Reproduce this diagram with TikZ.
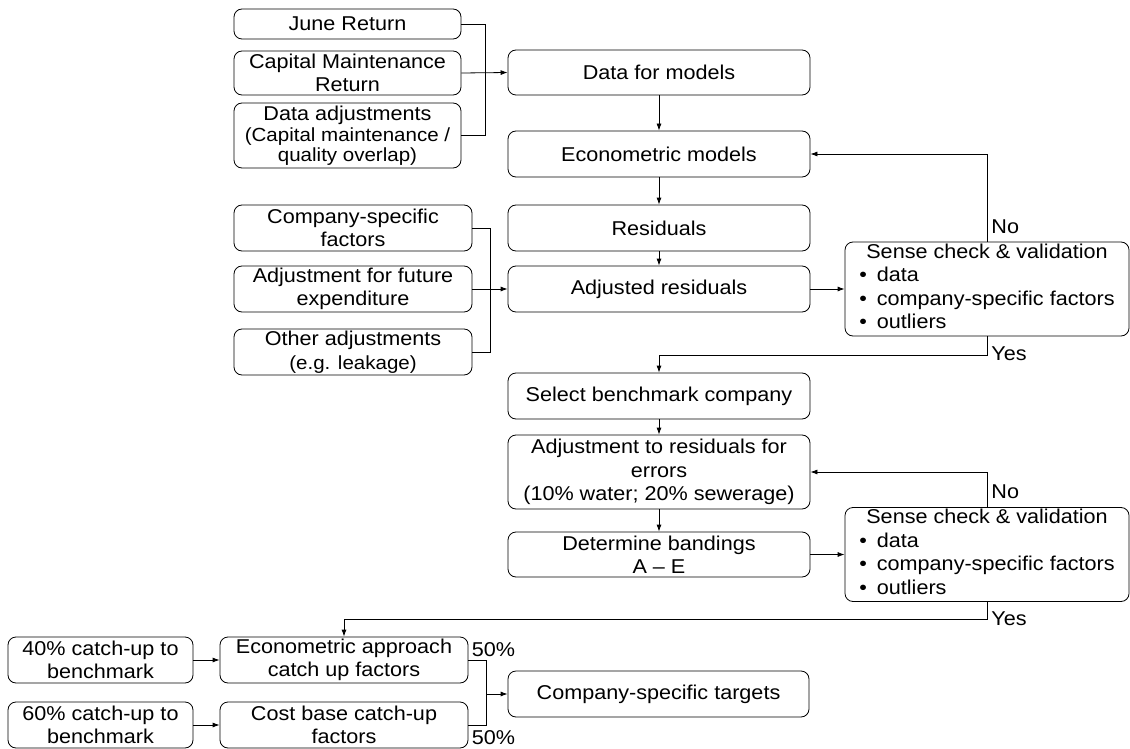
\documentclass[tikz,border=0pt]{standalone}
\usepackage{fontspec}
\setmainfont{Liberation Sans}[FakeStretch=1.08]
\usetikzlibrary{arrows.meta}
\newcommand\smalltxt{\fontsize{19}{20}\selectfont}
\newcommand\sensecheck{\begin{tabular}{@{}l@{}}
  \multicolumn{1}{@{}c@{}}{Sense check \& validation}\\
  \textbullet\hspace{10pt}data\\
  \textbullet\hspace{10pt}company-specific factors\\
  \textbullet\hspace{10pt}outliers
\end{tabular}}

\begin{document}
\begin{tikzpicture}
    [x=1pt,y=-1pt,line width=0.8pt,>={Latex[length=7pt,width=5pt]},
     every node/.style={font=\fontsize{20}{23.5}\selectfont},
     box/.style={draw,rounded corners=8pt,align=center,inner sep=0pt},
     lbl/.style={anchor=west,inner sep=0pt}]

    \useasboundingbox (0,0) rectangle (1130,749);

% data sources
\node[box,minimum width=227pt,minimum height=30pt] (jr) at (347.5,24) {June Return};
\node[box,minimum width=227pt,minimum height=44pt] (cmr) at (347.5,73) {Capital Maintenance\\Return};
\node[box,minimum width=227pt,minimum height=65pt] (dadj) at (347.5,135.5) {Data adjustments\\[-2pt]{\smalltxt(Capital maintenance /}\\[-3.5pt]{\smalltxt quality overlap)}};

% main column
\node[box,minimum width=302pt,minimum height=45pt] (dfm) at (659,72.5) {Data for models};
\node[box,minimum width=302pt,minimum height=46pt] (ecm) at (659,154) {Econometric models};
\node[box,minimum width=302pt,minimum height=46pt] (res) at (659,228) {Residuals};
\node[box,minimum width=302pt,minimum height=46pt] (adjres) at (659,289) {Adjusted residuals};
\node[box,minimum width=302pt,minimum height=46pt] (sbc) at (659,396) {Select benchmark company};
\node[box,minimum width=302pt,minimum height=74pt] (arf) at (659,472) {Adjustment to residuals for\\errors\\(10\% water; 20\% sewerage)};
\node[box,minimum width=302pt,minimum height=45pt] (dband) at (659,554.5) {Determine bandings\\A -- E};

% adjustments
\node[box,minimum width=238pt,minimum height=46pt] (csf) at (353,228) {Company-specific\\factors};
\node[box,minimum width=238pt,minimum height=46pt] (afe) at (353,289) {Adjustment for future\\expenditure};
\node[box,minimum width=238pt,minimum height=46pt] (oadj) at (353,352) {Other adjustments\\{\smalltxt(e.g. leakage)}};

% checks
\node[box,minimum width=284pt,minimum height=92pt] (sc1) at (987,289) {\sensecheck};
\node[box,minimum width=284pt,minimum height=93pt] (sc2) at (987,554.5) {\sensecheck};
\node[lbl] (no1) at ([xshift=4pt,yshift=15pt]sc1.north) {No};
\node[lbl] (yes1) at ([xshift=4pt,yshift=-17pt]sc1.south) {Yes};
\node[lbl] (no2) at ([xshift=4pt,yshift=15pt]sc2.north) {No};
\node[lbl] (yes2) at ([xshift=4pt,yshift=-17pt]sc2.south) {Yes};

% targets
\node[box,minimum width=185pt,minimum height=46pt] (cu40) at (100.5,660) {40\% catch-up to\\benchmark};
\node[box,minimum width=185pt,minimum height=46pt] (cu60) at (100.5,725) {60\% catch-up to\\benchmark};
\node[box,minimum width=248pt,minimum height=46pt] (eaf) at (344,660) {Econometric approach\\catch up factors};
\node[box,minimum width=248pt,minimum height=46pt] (cbf) at (344,725) {Cost base catch-up\\factors};
\node[box,minimum width=301pt,minimum height=46pt] (cst) at (658.5,694) {Company-specific targets};
\node[lbl,anchor=south west] (p50a) at ([xshift=3pt,yshift=3pt]eaf.east) {50\%};
\node[lbl,anchor=north west] (p50b) at ([xshift=3pt,yshift=-5pt]cbf.east) {50\%};
\coordinate (jn) at ([xshift=-21pt]cst.west);

\draw (jr.east) -- ++(24,0) |- (dadj.east);
\draw[->] (cmr.east) -- (dfm.west);
\draw[->] (dfm.south) -- (ecm.north);
\draw[->] (ecm.south) -- (res.north);
\draw[->] (res.south) -- (adjres.north);
\draw (csf.east) -- ++(18,0) |- (oadj.east);
\draw[->] (afe.east) -- (adjres.west);
\draw[->] (adjres.east) -- (sc1.west);
\draw[->] (sc1.north) |- (ecm.east);
\draw[->] (sc1.south) -- ++(0,19) -| (sbc.north);

\draw[->] (sbc.south) -- (arf.north);
\draw[->] (arf.south) -- (dband.north);
\draw[->] (dband.east) -- (sc2.west);
\draw[->] (sc2.north) |- (arf.east);
\draw[->] (sc2.south) -- ++(0,17) -| (eaf.north);

\draw[->] (cu40.east) -- (eaf.west);
\draw[->] (cu60.east) -- (cbf.west);
\draw (eaf.east) -| (jn) |- (cbf.east);
\draw[->] (jn) -- (cst.west);

  \end{tikzpicture}
\end{document}
